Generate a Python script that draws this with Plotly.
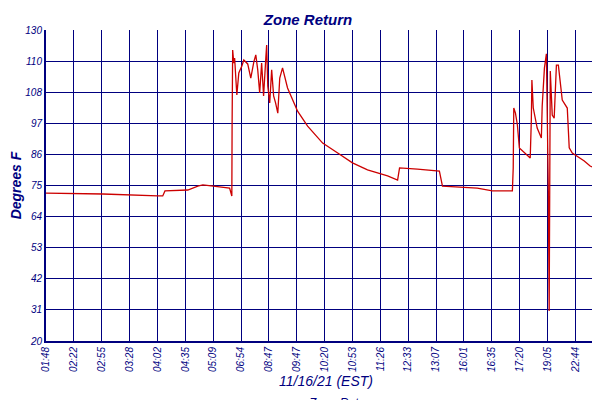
import plotly.graph_objects as go

tick_labels = ["01:48","02:22","02:55","03:28","04:02","04:35","05:09","06:54","08:47","09:47",
               "10:20","10:53","11:26","12:33","13:07","16:01","16:35","17:20","19:05","22:44","23:18","23:22"]
tick_pos = list(range(21)) + [20.07]
y_ticks = [20,31,42,53,64,75,86,97,108,119,130]
y_tick_text = ["20","31","42","53","64","75","86","97","108","110","130"]

x_vals = [0,2.04,4.01,4.19,4.27,5.09,5.45,5.63,6.59,6.67,6.68,6.70,6.74,6.77,6.85,6.92,7.03,7.10,7.24,7.35,
          7.46,7.53,7.60,7.67,7.74,7.81,7.89,7.92,7.96,8.03,8.10,8.17,8.24,8.32,8.39,8.49,8.67,9.03,9.39,9.93,
          10.47,11.00,11.54,12.26,12.62,12.69,13.33,14.12,14.23,15.48,16.02,16.74,16.77,16.79,16.85,16.92,16.99,
          17.28,17.38,17.42,17.44,17.49,17.63,17.78,17.81,17.89,17.96,18.03,18.06,18.10,18.17,18.24,18.28,18.32,
          18.39,18.46,18.53,18.71,18.78,18.89,19.07,19.32,19.53,19.78,20.07]
y_vals = [72.3,72.0,71.3,71.3,73.1,73.4,74.8,75.2,74.1,71.3,97.1,122.9,118.3,120.1,107.0,114.8,117.3,119.4,118.0,113.0,
          118.7,121.2,115.9,107.7,118.3,106.7,120.1,124.7,110.2,104.2,115.9,106.7,104.2,100.6,113.0,116.6,109.5,101.3,96.0,90.0,
          86.5,83.0,80.5,78.4,76.9,81.2,80.8,80.1,74.8,74.1,73.1,73.1,81.2,102.4,100.6,96.4,88.3,
          85.8,84.7,98.2,112.3,102.4,95.3,91.8,103.1,116.6,121.6,73.1,30.6,115.5,99.9,98.8,109.5,117.6,
          117.6,111.3,105.2,102.4,88.3,86.5,85.4,83.7,81.9,80.8,79.4]

navy = "#00007f"
font = dict(family="Liberation Sans", color=navy, style="italic")

fig = go.Figure()
fig.add_trace(go.Scatter(x=x_vals, y=y_vals, mode="lines", line=dict(color="#cc0000", width=1.3),
                         name="Zone Return"))
fig.update_layout(
    width=600, height=400, plot_bgcolor="white", paper_bgcolor="white",
    margin=dict(l=38, r=2, t=22, b=67, autoexpand=False),
    title=dict(text="<b>Zone Return</b>", x=0.5, xanchor="center", y=0.985, yanchor="top",
               font=dict(size=15, **font)),
    showlegend=True,
    legend=dict(orientation="h", x=0.5, xanchor="center", y=-0.15, yanchor="top",
                font=dict(size=12, **font)),
    xaxis=dict(range=[0, 20.1], tickmode="array", tickvals=tick_pos, ticktext=tick_labels, automargin=False,
               tickangle=-90, tickfont=dict(size=10, **font), showgrid=True, gridcolor=navy, gridwidth=1.2,
               showline=True, linecolor=navy, linewidth=2, zeroline=False,
               title=dict(text="11/16/21 (EST)", font=dict(size=14, **font), standoff=4)),
    yaxis=dict(range=[20, 130], tickmode="array", tickvals=y_ticks, ticktext=y_tick_text, automargin=False,
               tickfont=dict(size=10, **font), showgrid=True, gridcolor=navy, gridwidth=1.2,
               showline=True, linecolor=navy, linewidth=2, zeroline=False,
               title=dict(text="<b>Degrees F</b>", font=dict(size=14, **font), standoff=2)),
)
fig.write_html("out.html")
